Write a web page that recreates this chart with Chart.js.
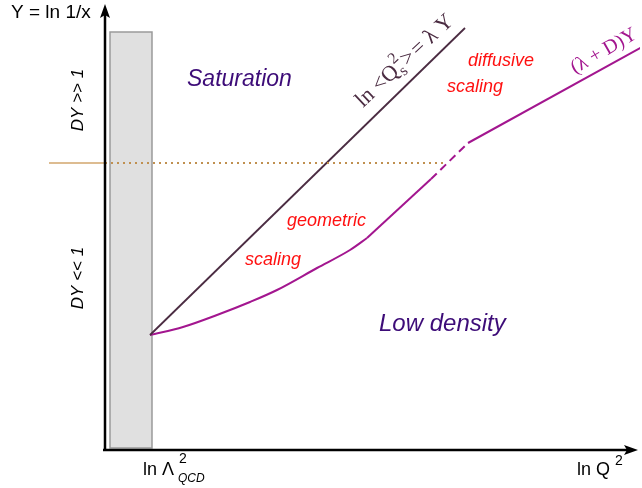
<!DOCTYPE html>
<html>
<head>
<meta charset="utf-8">
<script src="https://cdn.jsdelivr.net/npm/chart.js@4/dist/chart.umd.min.js"></script>
<style>
html,body{margin:0;padding:0;background:#fff;}
#wrap{width:642px;height:488px;}
</style>
</head>
<body>
<div id="wrap"><canvas id="c" width="642" height="488"></canvas></div>
<script>
// Axis ranges (arbitrary units: ln Q^2 horizontally, Y = ln 1/x vertically)
const xRange = [0, 535];
const yRange = [0, 435];

// Saturation line  ln<Qs^2> = lambda Y
const satX = [45, 360];
const satY = [115, 422];

// Geometric-scaling boundary: curved part up to the kink
const geoX = [45, 78, 112, 145, 172, 212, 245, 262];
const geoY = [115, 123, 135, 148, 160, 182, 200, 212];

// Geometric-scaling boundary: straight part after the kink
const geo2X = [262, 326];
const geo2Y = [212, 271];

// Transition (dashed)
const transX = [326, 363];
const transY = [271, 307];

// Diffusive scaling line (lambda + D) Y
const diffX = [363, 537];
const diffY = [307, 403];

// DY = 1 level
const levelY = 287;
const levelDotX = [0, 340];
const levelSolidX = [-56, 0];

// Non-perturbative band near ln Lambda_QCD^2
const bandX = [5, 47];
const bandY = [2, 418];

function pts(xs, ys) { return xs.map((x, i) => ({x: x, y: ys[i]})); }

const SAT_COL = '#4b2c42';
const MAG_COL = '#a3168f';
const PURPLE = '#3d0c78';
const RED = '#ff1010';

const deco = {
  id: 'deco',
  beforeDatasetsDraw(chart) {
    const ctx = chart.ctx, xs = chart.scales.x, ys = chart.scales.y;
    const x0 = xs.getPixelForValue(bandX[0]), x1 = xs.getPixelForValue(bandX[1]);
    const y0 = ys.getPixelForValue(bandY[1]), y1 = ys.getPixelForValue(bandY[0]);
    ctx.save();
    ctx.fillStyle = '#e0e0e0';
    ctx.fillRect(x0, y0, x1 - x0, y1 - y0);
    ctx.strokeStyle = '#9a9a9a';
    ctx.lineWidth = 1.5;
    ctx.strokeRect(x0, y0, x1 - x0, y1 - y0);
    ctx.restore();
  },
  afterDraw(chart) {
    const ctx = chart.ctx, a = chart.chartArea;
    ctx.save();
    // axes
    ctx.strokeStyle = '#000';
    ctx.fillStyle = '#000';
    ctx.lineWidth = 2.5;
    ctx.beginPath();
    ctx.moveTo(a.left, a.bottom + 1);
    ctx.lineTo(a.left, a.top - 1);
    ctx.moveTo(a.left - 2, a.bottom);
    ctx.lineTo(a.right - 8, a.bottom);
    ctx.stroke();
    // arrow heads
    ctx.beginPath();
    ctx.moveTo(a.left, a.top - 11);
    ctx.lineTo(a.left - 5, a.top + 3);
    ctx.lineTo(a.left, a.top);
    ctx.lineTo(a.left + 5, a.top + 3);
    ctx.closePath();
    ctx.fill();
    ctx.beginPath();
    ctx.moveTo(a.right - 2, a.bottom);
    ctx.lineTo(a.right - 16, a.bottom - 5);
    ctx.lineTo(a.right - 13, a.bottom);
    ctx.lineTo(a.right - 16, a.bottom + 5);
    ctx.closePath();
    ctx.fill();

    const SANS = '"Liberation Sans", Arial, sans-serif';
    const SERIF = '"Liberation Serif", "Times New Roman", serif';
    ctx.textBaseline = 'alphabetic';
    ctx.textAlign = 'left';

    // axis titles
    ctx.fillStyle = '#000';
    ctx.font = '19px ' + SANS;
    ctx.fillText('Y = ln 1/x', 11, 18);

    ctx.font = '18px ' + SANS;
    ctx.fillText('ln Λ', 143, 475);
    ctx.font = '14px ' + SANS;
    ctx.fillText('2', 179, 463);
    ctx.font = 'italic 12px ' + SANS;
    ctx.fillText('QCD', 178, 482);

    ctx.font = '18px ' + SANS;
    ctx.fillText('ln Q', 577, 475);
    ctx.font = '14px ' + SANS;
    ctx.fillText('2', 615, 465);

    // vertical DY labels
    ctx.font = 'italic 17px ' + SANS;
    ctx.textAlign = 'center';
    [['DY >> 1', 100], ['DY << 1', 278]].forEach(([t, cy]) => {
      ctx.save();
      ctx.translate(83, cy);
      ctx.rotate(-Math.PI / 2);
      ctx.fillText(t, 0, 0);
      ctx.restore();
    });

    // region labels
    ctx.textAlign = 'left';
    ctx.fillStyle = PURPLE;
    ctx.font = 'italic 23px ' + SANS;
    ctx.fillText('Saturation', 187, 86);
    ctx.font = 'italic 24px ' + SANS;
    ctx.fillText('Low density', 379, 331);

    ctx.fillStyle = RED;
    ctx.font = 'italic 18px ' + SANS;
    ctx.fillText('geometric', 287, 226);
    ctx.fillText('scaling', 245, 265);
    ctx.fillText('diffusive', 468, 66);
    ctx.fillText('scaling', 447, 92);

    // rotated line labels
    ctx.save();
    ctx.translate(363, 108);
    ctx.rotate(-43 * Math.PI / 180);
    ctx.fillStyle = SAT_COL;
    ctx.font = '22px ' + SERIF;
    let x = 0;
    ctx.fillText('ln <Q', x, 0);
    x += ctx.measureText('ln <Q').width + 1;
    ctx.font = '16px ' + SERIF;
    ctx.fillText('2', x, -11);
    ctx.fillText('s', x, 5);
    x += ctx.measureText('2').width + 1;
    ctx.font = '22px ' + SERIF;
    ctx.fillText('>', x, 0);
    x += ctx.measureText('>').width + 2;
    ctx.fillText('= λ Y', x, 0);
    ctx.restore();

    ctx.save();
    ctx.translate(575, 74);
    ctx.rotate(-30 * Math.PI / 180);
    ctx.fillStyle = MAG_COL;
    ctx.font = '20px ' + SERIF;
    ctx.fillText('(λ + D)Y', 0, 0);
    ctx.restore();

    ctx.restore();
  }
};

new Chart(document.getElementById('c'), {
  type: 'scatter',
  data: {
    datasets: [
      {data: pts(levelDotX, [levelY, levelY]), showLine: true, borderColor: '#c09050', borderWidth: 2, borderDash: [2, 4], pointRadius: 0},
      {data: pts(levelSolidX, [levelY, levelY]), showLine: true, borderColor: '#d2a66c', borderWidth: 1.5, pointRadius: 0, clip: false},
      {data: pts(satX, satY), showLine: true, borderColor: SAT_COL, borderWidth: 1.8, pointRadius: 0},
      {data: pts(geoX, geoY), showLine: true, borderColor: MAG_COL, borderWidth: 2, pointRadius: 0, cubicInterpolationMode: 'monotone'},
      {data: pts(geo2X, geo2Y), showLine: true, borderColor: MAG_COL, borderWidth: 2, pointRadius: 0},
      {data: pts(transX, transY), showLine: true, borderColor: MAG_COL, borderWidth: 2, borderDash: [8, 5], pointRadius: 0},
      {data: pts(diffX, diffY), showLine: true, borderColor: MAG_COL, borderWidth: 2, pointRadius: 0}
    ]
  },
  options: {
    responsive: false,
    animation: false,
    devicePixelRatio: 1,
    layout: {padding: {left: 105, right: 2, top: 15, bottom: 38}},
    plugins: {legend: {display: false}, tooltip: {enabled: false}},
    scales: {
      x: {type: 'linear', min: xRange[0], max: xRange[1], display: false},
      y: {type: 'linear', min: yRange[0], max: yRange[1], display: false}
    }
  },
  plugins: [deco]
});
</script>
</body>
</html>
